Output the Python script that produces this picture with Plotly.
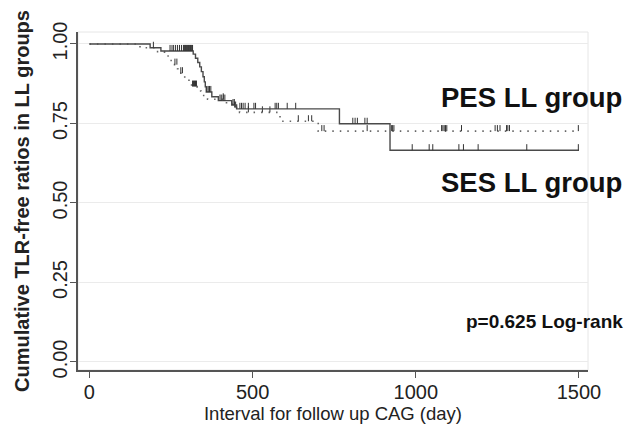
import numpy as np
import plotly.graph_objects as go

# ---- data ----
# SES LL group (solid line): event times (day) and survival after each step
ses_time = [0, 186, 219, 318, 325, 332, 338, 343, 348, 352, 355, 358, 375, 395, 436, 451, 766, 921, 1500]
ses_surv = [1.000, 0.988, 0.978, 0.968, 0.955, 0.942, 0.928, 0.913, 0.897, 0.881, 0.865, 0.849,
            0.834, 0.822, 0.808, 0.796, 0.749, 0.666, 0.666]
ses_censor = [196, 247, 253, 258, 264, 270, 276, 282, 288, 290, 292, 294, 296, 298, 300, 302, 304,
              306, 308, 310, 312, 314, 316,
              360, 364, 368, 372, 400, 404, 410, 415, 440, 444, 461, 466, 471, 477, 487, 504, 509,
              569, 574, 579, 606, 632, 807, 814, 821, 844, 851, 989, 1041, 1052, 1132, 1146, 1191,
              1340, 1498]

# PES LL group (dotted line)
pes_time = [0, 155, 200, 230, 245, 258, 270, 280, 292, 305, 313, 330, 342, 362, 420, 438, 460, 584, 701, 1500]
pes_surv = [1.000, 0.988, 0.976, 0.962, 0.948, 0.935, 0.922, 0.908, 0.894, 0.880, 0.866, 0.852,
            0.838, 0.826, 0.813, 0.800, 0.785, 0.757, 0.726, 0.726]
pes_censor = [262, 268, 280, 285, 316, 319, 322, 325, 328, 410, 445, 448, 487, 530, 553, 640, 671, 681,
              712, 719, 851, 926, 929, 933, 1079, 1083, 1087, 1091, 1095, 1140, 1243, 1250, 1258, 1278,
              1282, 1287, 1498]

x_ticks = [0, 500, 1000, 1500]
y_ticks = [0, 0.25, 0.5, 0.75, 1.0]
y_ticktext = ["0.00", "0.25", "0.50", "0.75", "1.00"]


def surv_at(times, surv, t):
    idx = np.searchsorted(np.array(times), np.array(t), side="right") - 1
    return np.array(surv)[idx]


FONT = "Liberation Sans, Arial, sans-serif"
TICK_H = 0.019

fig = go.Figure()

# PES dotted curve
fig.add_trace(go.Scatter(x=pes_time, y=pes_surv, mode="lines", line_shape="hv",
                         line=dict(color="#666666", width=1.6, dash="1.5px,6px"),
                         showlegend=False, hoverinfo="skip"))
pes_cy = surv_at(pes_time, pes_surv, pes_censor)
fig.add_trace(go.Scatter(x=pes_censor, y=pes_cy, mode="markers",
                         marker=dict(size=1, color="rgba(0,0,0,0)"),
                         error_y=dict(type="data", symmetric=False,
                                      array=[TICK_H] * len(pes_censor),
                                      arrayminus=[0] * len(pes_censor),
                                      width=0, thickness=1, color="#333333"),
                         showlegend=False, hoverinfo="skip"))

# SES solid curve
fig.add_trace(go.Scatter(x=ses_time, y=ses_surv, mode="lines", line_shape="hv",
                         line=dict(color="#4a4a4a", width=1.4),
                         showlegend=False, hoverinfo="skip"))
ses_cy = surv_at(ses_time, ses_surv, ses_censor)
fig.add_trace(go.Scatter(x=ses_censor, y=ses_cy, mode="markers",
                         marker=dict(size=1, color="rgba(0,0,0,0)"),
                         error_y=dict(type="data", symmetric=False,
                                      array=[TICK_H] * len(ses_censor),
                                      arrayminus=[0] * len(ses_censor),
                                      width=0, thickness=1, color="#333333"),
                         showlegend=False, hoverinfo="skip"))

# faint plot-region border (top & right)
fig.add_shape(type="rect", xref="paper", yref="paper", x0=0, y0=0, x1=1, y1=1,
              line=dict(color="#e6e6e6", width=1), layer="below")

fig.add_annotation(x=1070, y=0.833, xref="x", yref="y", text="<b>PES LL group</b>",
                   showarrow=False, xanchor="left", yanchor="middle",
                   font=dict(family=FONT, size=27.5, color="#111111"))
fig.add_annotation(x=1070, y=0.563, xref="x", yref="y", text="<b>SES LL group</b>",
                   showarrow=False, xanchor="left", yanchor="middle",
                   font=dict(family=FONT, size=27.5, color="#111111"))
fig.add_annotation(x=1148, y=0.126, xref="x", yref="y", text="<b>p=0.625 Log-rank</b>",
                   showarrow=False, xanchor="left", yanchor="middle",
                   font=dict(family=FONT, size=19, color="#111111"))

# the page body adds an 8px margin, so the figure is 8px smaller and margins shifted
fig.update_layout(
    width=625, height=417,
    margin=dict(l=70, r=45, t=24, b=55),
    paper_bgcolor="white", plot_bgcolor="white",
    font=dict(family=FONT, color="#222222"),
    xaxis=dict(range=[-35, 1527.6], tickvals=x_ticks, ticks="outside", ticklen=6,
               tickcolor="#555555", showline=True, linecolor="#555555", linewidth=1.5,
               showgrid=False, zeroline=False, tickfont=dict(size=20), automargin=False,
               ticklabelstandoff=-3,
               title=dict(text="Interval for follow up CAG (day)", font=dict(size=18.5), standoff=0)),
    yaxis=dict(range=[-0.0252, 1.0377], tickvals=y_ticks, ticktext=y_ticktext, tickangle=-90,
               ticks="outside", ticklen=6, tickcolor="#555555", showline=True,
               linecolor="#555555", linewidth=1.5, showgrid=True, gridcolor="#ebebeb",
               gridwidth=1, zeroline=False, tickfont=dict(size=20), automargin=False,
               ticklabelstandoff=-5,
               title=dict(text="<b>Cumulative TLR-free ratios in LL groups</b>",
                          font=dict(size=20), standoff=14)),
)

fig.write_html("out.html")
